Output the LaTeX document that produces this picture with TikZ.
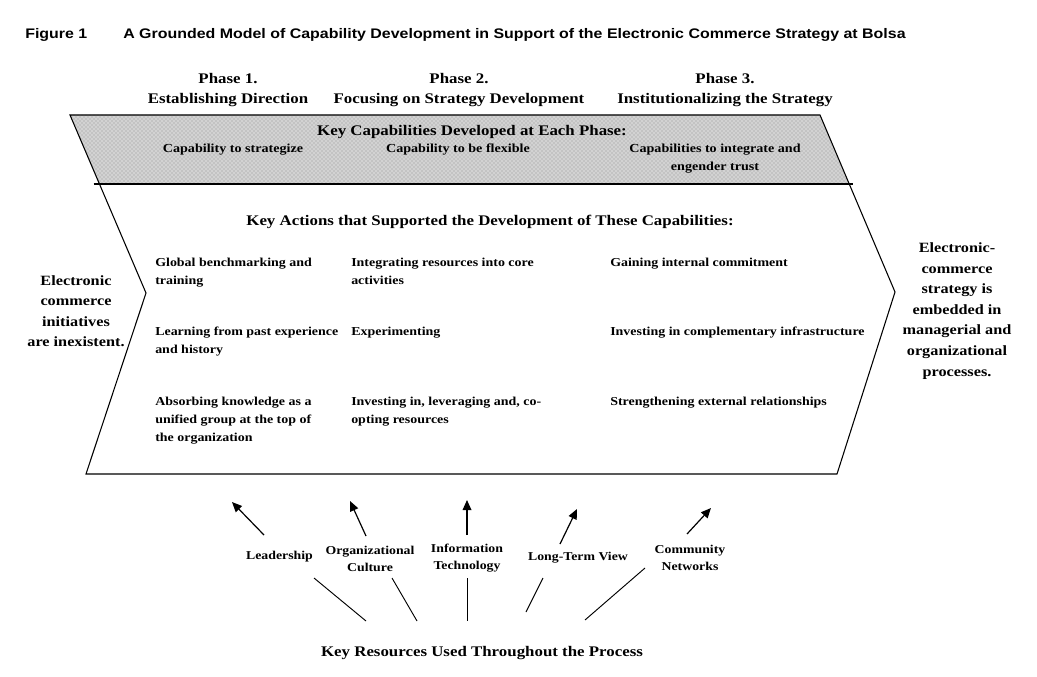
\documentclass[tikz,border=0pt]{standalone}
\usepackage{fontspec}
\setmainfont{Liberation Serif}[FakeStretch=1.15]
\newfontfamily\titlefont{Liberation Sans}[FakeStretch=1.15]
\usetikzlibrary{positioning, arrows.meta, patterns}

\begin{document}
\begin{tikzpicture}[x=0.75pt, y=-0.75pt, inner sep=0pt]
  \tikzstyle{phase} = [align=center, font=\fontsize{11}{15}\selectfont\bfseries]
  \tikzstyle{heading} = [font=\fontsize{11}{13}\selectfont\bfseries]
  \tikzstyle{capab} = [align=center, font=\fontsize{9.2}{13.5}\selectfont\bfseries]
  \tikzstyle{action} = [align=left, anchor=north west, font=\fontsize{9.1}{13.5}\selectfont\bfseries]
  \tikzstyle{state} = [align=center, font=\fontsize{10.6}{15.4}\selectfont\bfseries]
  \tikzstyle{resource} = [align=center, font=\fontsize{9}{12.75}\selectfont\bfseries]
  \tikzstyle{res arrow} = [line width=0.9pt, -{Triangle[length=7.5pt, width=6.5pt]}]
  \tikzstyle{res line} = [line width=0.7pt]

  \useasboundingbox (0,0) rectangle (1037,677);

  % Title
  \node[anchor=west, font=\titlefont\fontsize{10.4}{12}\selectfont\bfseries] (fig) at (25,35) {Figure 1};
  \node[anchor=west, font=\titlefont\fontsize{10.4}{12}\selectfont\bfseries] (title) at (123,35)
    {A Grounded Model of Capability Development in Support of the Electronic Commerce Strategy at Bolsa};

  % Phases
  \node[phase] (ph1) at (228,90) {Phase 1.\\Establishing Direction};
  \node[phase] (ph2) at (459,90) {Phase 2.\\Focusing on Strategy Development};
  \node[phase] (ph3) at (725,90) {Phase 3.\\Institutionalizing the Strategy};

  % Chevron corners
  \coordinate (tl) at (70,115);
  \coordinate (tr) at (820,115);
  \coordinate (rv) at (895,292);
  \coordinate (br) at (837,474);
  \coordinate (bl) at (86,474);
  \coordinate (lv) at (146,293);
  \coordinate (bbl) at (99,184);
  \coordinate (bbr) at (849,184);

  % Shaded band
  \fill[gray!35] (tl) -- (tr) -- (bbr) -- (bbl) -- cycle;
  \fill[pattern=crosshatch dots, pattern color=gray!85] (tl) -- (tr) -- (bbr) -- (bbl) -- cycle;
  \draw[line width=0.8pt] (tl) -- (tr) -- (rv) -- (br) -- (bl) -- (lv) -- cycle;
  \draw[line width=1.3pt] ([xshift=-4]bbl) -- ([xshift=3]bbr);

  \node[heading] (keycap) at (472,132) {Key Capabilities Developed at Each Phase:};
  \node[capab] (cap1) at (233,150) {Capability to strategize};
  \node[capab] (cap2) at (458,150) {Capability to be flexible};
  \node[capab] (cap3) at (715,159) {Capabilities to integrate and\\engender trust};

  % Actions
  \node[heading] (keyact) at (490,222) {Key Actions that Supported the Development of These Capabilities:};
  \node[action] (a11) at (155,258) {Global benchmarking and\\training};
  \node[action] (a12) at (351,258) {Integrating resources into core\\activities};
  \node[action] (a13) at (610,258) {Gaining internal commitment};
  \node[action] (a21) at (155,327) {Learning from past experience\\and history};
  \node[action] (a22) at (351,327) {Experimenting};
  \node[action] (a23) at (610,327) {Investing in complementary infrastructure};
  \node[action] (a31) at (155,397) {Absorbing knowledge as a\\unified group at the top of\\the organization};
  \node[action] (a32) at (351,397) {Investing in, leveraging and, co-\\opting resources};
  \node[action] (a33) at (610,397) {Strengthening external relationships};

  % Start and end states
  \node[state] (start) at (76,311) {Electronic\\commerce\\initiatives\\are inexistent.};
  \node[state] (goal) at (957,311) {Electronic-\\commerce\\strategy is\\embedded in\\managerial and\\organizational\\processes.};

  % Resources
  \node[resource] (lead) at (279.5,557) {Leadership};
  \node[resource] (cult) at (370,558.5) {Organizational\\Culture};
  \node[resource] (it) at (467,558.5) {Information\\Technology};
  \node[resource] (ltv) at (578,558) {Long-Term View};
  \node[resource] (comm) at (690,558) {Community\\Networks};
  \node[heading] (keyres) at (482,653) {Key Resources Used Throughout the Process};

  \coordinate (lead-tail) at (264,535);
  \coordinate (lead-tip) at (232,502);
  \coordinate (cult-tail) at (366,536);
  \coordinate (cult-tip) at (350,501);
  \coordinate (it-tail) at (467,535);
  \coordinate (it-tip) at (467,500);
  \coordinate (ltv-tail) at (560,544);
  \coordinate (ltv-tip) at (577,509);
  \coordinate (comm-tail) at (687,534);
  \coordinate (comm-tip) at (711,508);

  \draw[res arrow] (lead-tail) -- (lead-tip);
  \draw[res arrow] (cult-tail) -- (cult-tip);
  \draw[res arrow] (it-tail) -- (it-tip);
  \draw[res arrow] (ltv-tail) -- (ltv-tip);
  \draw[res arrow] (comm-tail) -- (comm-tip);

  \coordinate (lead-in) at (314,578);
  \coordinate (lead-out) at (366,621);
  \coordinate (cult-in) at (392,578);
  \coordinate (cult-out) at (417,621);
  \coordinate (it-in) at (467,578);
  \coordinate (it-out) at (467,621);
  \coordinate (ltv-in) at (543,578);
  \coordinate (ltv-out) at (526,612);
  \coordinate (comm-in) at (645,568);
  \coordinate (comm-out) at (585,620);

  \draw[res line] (lead-in) -- (lead-out);
  \draw[res line] (cult-in) -- (cult-out);
  \draw[res line] (it-in) -- (it-out);
  \draw[res line] (ltv-in) -- (ltv-out);
  \draw[res line] (comm-in) -- (comm-out);
\end{tikzpicture}
\end{document}
